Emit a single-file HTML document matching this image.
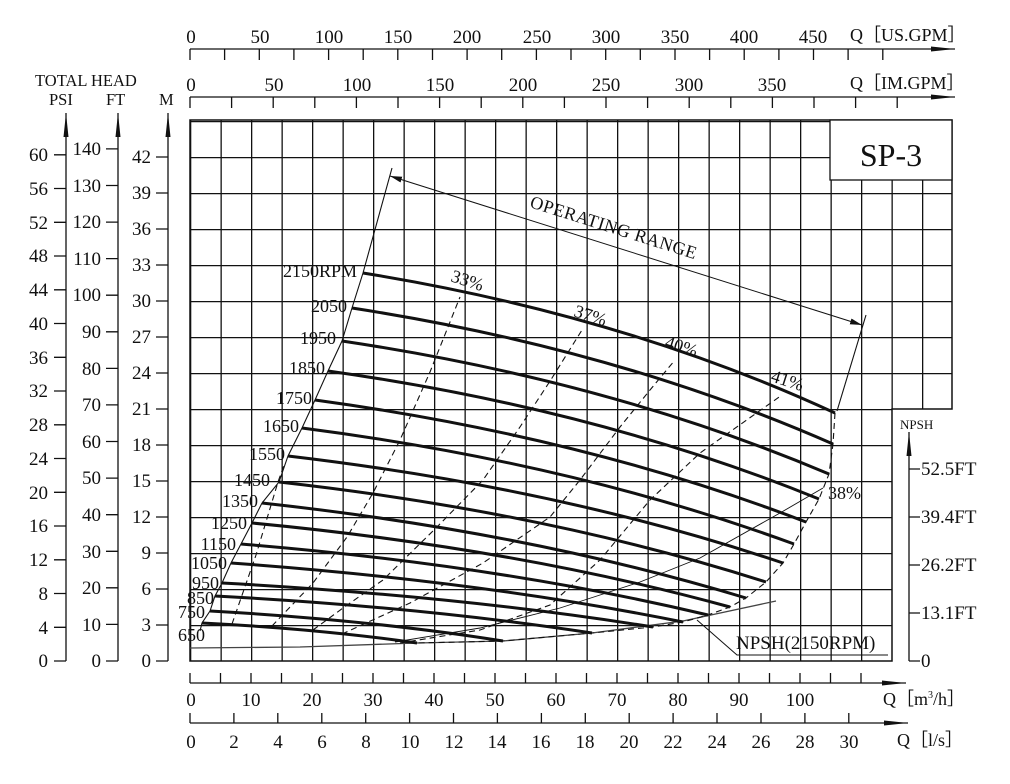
<!DOCTYPE html>
<html><head><meta charset="utf-8"><style>
html,body{margin:0;padding:0;background:#fff}
svg{display:block}
text{font-family:"Liberation Serif",serif;fill:#111}
</style></head><body>
<svg width="1010" height="784" viewBox="0 0 1010 784" xmlns="http://www.w3.org/2000/svg">
<defs>
<pattern id="g" patternUnits="userSpaceOnUse" x="190" y="121" width="30.5" height="36">
<path d="M0 0.5H30.5M0.6 0V36" stroke="#111" stroke-width="1.4" fill="none"/>
</pattern>
<marker id="ah" markerWidth="12" markerHeight="6" refX="12" refY="3" orient="auto" markerUnits="userSpaceOnUse"><path d="M0 0L12 3L0 6z" fill="#111"/></marker>
<marker id="ahs" markerWidth="12" markerHeight="6" refX="0" refY="3" orient="auto" markerUnits="userSpaceOnUse"><path d="M12 0L0 3L12 6z" fill="#111"/></marker>
<marker id="big" markerWidth="24" markerHeight="8" refX="24" refY="4" orient="auto" markerUnits="userSpaceOnUse"><path d="M0 1.5L24 4L0 6.5z" fill="#111"/></marker>
</defs>

<rect x="190" y="120" width="702" height="541" fill="url(#g)"/>
<rect x="892" y="120" width="60" height="289" fill="url(#g)"/>
<path d="M190 120H952V409H892V661H190Z" fill="none" stroke="#111" stroke-width="1.5"/>
<rect x="830" y="120" width="122" height="60" fill="#fff" stroke="#111" stroke-width="1.3"/>
<text x="891" y="166" font-size="32" text-anchor="middle">SP-3</text>

<line x1="190" y1="49" x2="955" y2="49" stroke="#111" stroke-width="1.3" marker-end="url(#big)"/>
<path d="M190 49v11M224.6 49v11M259.3 49v11M293.9 49v11M328.6 49v11M363.2 49v11M397.8 49v11M432.5 49v11M467.1 49v11M501.7 49v11M536.4 49v11M571 49v11M605.7 49v11M640.3 49v11M675 49v11M709.6 49v11M744.2 49v11M778.9 49v11M813.5 49v11M848.1 49v11M882.8 49v11" stroke="#111" stroke-width="1.3"/>
<g font-size="19" text-anchor="middle">
<text x="191" y="43">0</text><text x="260" y="43">50</text><text x="329" y="43">100</text><text x="398" y="43">150</text><text x="467" y="43">200</text><text x="537" y="43">250</text><text x="606" y="43">300</text><text x="675" y="43">350</text><text x="744" y="43">400</text><text x="813" y="43">450</text>
</g>
<text x="850" y="41" font-size="18">Q［US.GPM］</text>

<line x1="190" y1="97" x2="955" y2="97" stroke="#111" stroke-width="1.3" marker-end="url(#big)"/>
<path d="M190 97v11M231.6 97v11M273.2 97v11M314.8 97v11M356.4 97v11M398 97v11M439.6 97v11M481.2 97v11M522.8 97v11M564.4 97v11M606 97v11M647.6 97v11M689.2 97v11M730.8 97v11M772.4 97v11M814 97v11M855.6 97v11M897.2 97v11" stroke="#111" stroke-width="1.3"/>
<g font-size="19" text-anchor="middle">
<text x="191" y="91">0</text><text x="274" y="91">50</text><text x="357" y="91">100</text><text x="440" y="91">150</text><text x="523" y="91">200</text><text x="606" y="91">250</text><text x="689" y="91">300</text><text x="772" y="91">350</text>
</g>
<text x="850" y="89" font-size="18">Q［IM.GPM］</text>

<line x1="190" y1="683" x2="906" y2="683" stroke="#111" stroke-width="1.3" marker-end="url(#big)"/>
<path d="M190 683v-10M220.5 683v-10M251 683v-10M281.5 683v-10M312 683v-10M342.5 683v-10M373 683v-10M403.5 683v-10M434 683v-10M464.5 683v-10M495 683v-10M525.5 683v-10M556 683v-10M586.5 683v-10M617 683v-10M647.5 683v-10M678 683v-10M708.5 683v-10M739 683v-10M769.5 683v-10M800 683v-10M830.5 683v-10M861 683v-10" stroke="#111" stroke-width="1.3"/>
<g font-size="19" text-anchor="middle">
<text x="191" y="706">0</text><text x="251" y="706">10</text><text x="312" y="706">20</text><text x="373" y="706">30</text><text x="434" y="706">40</text><text x="495" y="706">50</text><text x="556" y="706">60</text><text x="617" y="706">70</text><text x="678" y="706">80</text><text x="739" y="706">90</text><text x="800" y="706">100</text>
</g>
<text x="883" y="705" font-size="18">Q［m<tspan font-size="10" dy="-7">3</tspan><tspan dy="7">/h］</tspan></text>

<line x1="190" y1="723" x2="908" y2="723" stroke="#111" stroke-width="1.3" marker-end="url(#big)"/>
<path d="M190 723v-10M233.9 723v-10M277.8 723v-10M321.8 723v-10M365.7 723v-10M409.6 723v-10M453.5 723v-10M497.4 723v-10M541.4 723v-10M585.3 723v-10M629.2 723v-10M673.1 723v-10M717 723v-10M761 723v-10M804.9 723v-10M848.8 723v-10" stroke="#111" stroke-width="1.3"/>
<g font-size="19" text-anchor="middle">
<text x="191" y="748">0</text><text x="234" y="748">2</text><text x="278" y="748">4</text><text x="322" y="748">6</text><text x="366" y="748">8</text><text x="410" y="748">10</text><text x="454" y="748">12</text><text x="497" y="748">14</text><text x="541" y="748">16</text><text x="585" y="748">18</text><text x="629" y="748">20</text><text x="673" y="748">22</text><text x="717" y="748">24</text><text x="761" y="748">26</text><text x="805" y="748">28</text><text x="849" y="748">30</text>
</g>
<text x="897" y="746" font-size="18">Q［l/s］</text>

<text x="35" y="86" font-size="16.5">TOTAL HEAD</text>
<text x="49" y="105" font-size="16.5">PSI</text>
<text x="106" y="105" font-size="16.5">FT</text>
<text x="159" y="105" font-size="16.5">M</text>
<line x1="66" y1="661" x2="66" y2="113" stroke="#111" stroke-width="1.3" marker-end="url(#big)"/>
<line x1="118" y1="661" x2="118" y2="113" stroke="#111" stroke-width="1.3" marker-end="url(#big)"/>
<line x1="168" y1="661" x2="168" y2="113" stroke="#111" stroke-width="1.3" marker-end="url(#big)"/>
<path d="M54 661h12M54 627.3h12M54 593.5h12M54 559.8h12M54 526h12M54 492.3h12M54 458.5h12M54 424.8h12M54 391h12M54 357.3h12M54 323.5h12M54 289.8h12M54 256h12M54 222.3h12M54 188.5h12M54 154.8h12
M106 661h12M106 624.4h12M106 587.8h12M106 551.3h12M106 514.7h12M106 478.1h12M106 441.5h12M106 404.9h12M106 368.4h12M106 331.8h12M106 295.2h12M106 258.6h12M106 222.1h12M106 185.5h12M106 148.9h12
M156 661h12M156 625h12M156 589h12M156 553h12M156 517h12M156 481h12M156 445h12M156 409h12M156 373h12M156 337h12M156 301h12M156 265h12M156 229h12M156 193h12M156 157h12" stroke="#111" stroke-width="1.3"/>
<g font-size="19" text-anchor="end">
<text x="48" y="667">0</text><text x="48" y="634">4</text><text x="48" y="600">8</text><text x="48" y="566">12</text><text x="48" y="532">16</text><text x="48" y="499">20</text><text x="48" y="465">24</text><text x="48" y="431">28</text><text x="48" y="397">32</text><text x="48" y="364">36</text><text x="48" y="330">40</text><text x="48" y="296">44</text><text x="48" y="262">48</text><text x="48" y="229">52</text><text x="48" y="195">56</text><text x="48" y="161">60</text>
<text x="101" y="667">0</text><text x="101" y="631">10</text><text x="101" y="594">20</text><text x="101" y="558">30</text><text x="101" y="521">40</text><text x="101" y="484">50</text><text x="101" y="448">60</text><text x="101" y="411">70</text><text x="101" y="375">80</text><text x="101" y="338">90</text><text x="101" y="301">100</text><text x="101" y="265">110</text><text x="101" y="228">120</text><text x="101" y="192">130</text><text x="101" y="155">140</text>
<text x="151" y="667">0</text><text x="151" y="631">3</text><text x="151" y="595">6</text><text x="151" y="559">9</text><text x="151" y="523">12</text><text x="151" y="487">15</text><text x="151" y="451">18</text><text x="151" y="415">21</text><text x="151" y="379">24</text><text x="151" y="343">27</text><text x="151" y="307">30</text><text x="151" y="271">33</text><text x="151" y="235">36</text><text x="151" y="199">39</text><text x="151" y="163">42</text>
</g>

<text x="900" y="429" font-size="13">NPSH</text>
<line x1="909" y1="661" x2="909" y2="432" stroke="#111" stroke-width="1.3" marker-end="url(#big)"/>
<path d="M909 661h11M909 613h11M909 565h11M909 517h11M909 469h11" stroke="#111" stroke-width="1.3"/>
<g font-size="19">
<text x="921" y="667">0</text><text x="921" y="619">13.1FT</text><text x="921" y="571">26.2FT</text><text x="921" y="523">39.4FT</text><text x="921" y="475">52.5FT</text>
</g>

<polyline points="200,631 202,623 210,611 215,596 222,583 231,563 241,544 252,523 262,503 279,482 288,456 302,428 315,400 328,371 342,341 352,308 363,273 392,168" fill="none" stroke="#111" stroke-width="1.1"/>
<line x1="837" y1="411" x2="866" y2="315" stroke="#111" stroke-width="1.1"/>
<line x1="390" y1="176" x2="862" y2="325" stroke="#111" stroke-width="1" marker-start="url(#ahs)" marker-end="url(#ah)"/>
<text font-size="18" transform="translate(529,207) rotate(17.5)" letter-spacing="0.5">OPERATING  RANGE</text>

<path d="M190 648 L300 647 L417 643 L503 641 L592 633 L683 621 L776 601" fill="none" stroke="#444" stroke-width="1.3"/>
<polyline points="697,620 737,655 888,655" fill="none" stroke="#111" stroke-width="1"/>
<text x="736" y="649" font-size="19">NPSH(2150RPM)</text>

<g fill="none" stroke="#111" stroke-width="1.1" stroke-dasharray="6,4">
<polyline points="835,413 833,444 829,474 819,499 806,522 794,544 783,563 766,582 746,598 730,607 708,615 683,622 653,627 592,633 503,641 417,643"/>
<path d="M232 624 L256 555 L278 482 L284 465"/>
<path d="M272 626 L313 583 L347 537 L373 493 L400 440 L430 372 L460 297"/>
<path d="M313 630 L343 608 L383 580 L437 527 L483 480 L520 427 L552 378 L582 330"/>
<path d="M342 634 L410 603 L483 563 L550 517 L580 480 L620 427 L650 390 L675 360"/>
<path d="M400 643 L480 630 L550 605 L600 560 L650 500 L700 453 L782 395"/>
<path d="M395 642 L480 628 L560 608 L640 582 L700 558 L780 513 L823 488" stroke-dasharray="none" stroke-width="0.9"/>
</g>

<g fill="none" stroke="#111" stroke-width="3">
<path d="M363 273 Q623 315 835 413"/>
<path d="M352 308 Q617 349 833 444"/>
<path d="M342 341 Q610 381 829 474"/>
<path d="M328 371 Q598 409 819 499"/>
<path d="M315 400 Q585 437 806 522"/>
<path d="M302 428 Q573 463 794 544"/>
<path d="M288 456 Q560 488 783 563"/>
<path d="M279 482 Q547 512 766 582"/>
<path d="M262 503 Q528 532 746 598"/>
<path d="M252 523 Q515 548 730 607"/>
<path d="M241 544 Q498 565 708 615"/>
<path d="M231 563 Q480 581 683 622"/>
<path d="M222 583 Q459 596 653 627"/>
<path d="M215 596 Q422 607 592 633"/>
<path d="M210 611 Q371 620 503 641"/>
<path d="M202 623 Q320 629 417 643"/>
</g>

<g font-size="18" text-anchor="end">
<text x="357" y="277">2150RPM</text>
<text x="347" y="312">2050</text>
<text x="336" y="344">1950</text>
<text x="325" y="374">1850</text>
<text x="312" y="404">1750</text>
<text x="299" y="432">1650</text>
<text x="285" y="460">1550</text>
<text x="270" y="486">1450</text>
<text x="258" y="507">1350</text>
<text x="247" y="529">1250</text>
<text x="236" y="550">1150</text>
<text x="227" y="569">1050</text>
<text x="219" y="589">950</text>
<text x="214" y="604">850</text>
<text x="205" y="618">750</text>
<text x="205" y="641">650</text>
</g>
<g font-size="18">
<text transform="translate(450,281) rotate(18)">33%</text>
<text transform="translate(573,316) rotate(18)">37%</text>
<text transform="translate(664,347) rotate(18)">40%</text>
<text transform="translate(770,381) rotate(18)">41%</text>
<text x="828" y="499">38%</text>
</g>
</svg>
</body></html>
